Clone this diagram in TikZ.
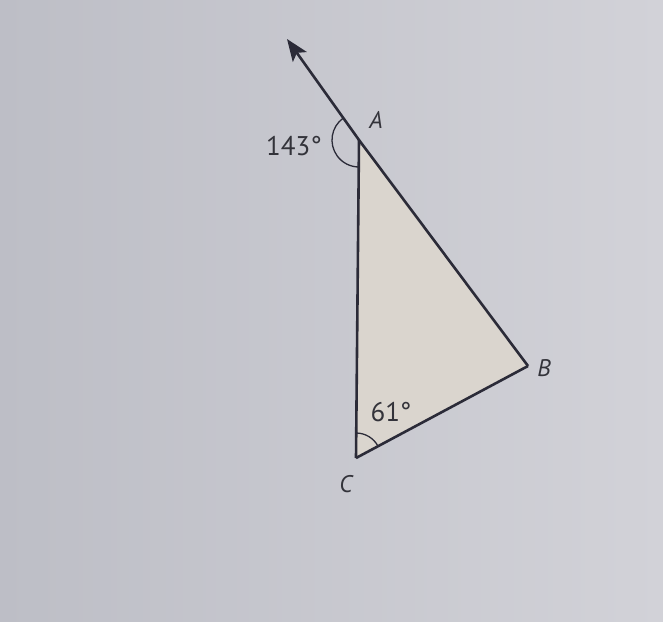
\documentclass[tikz,border=0pt]{standalone}
\usepackage{fontspec}
\setmainfont{PT Sans}
\usetikzlibrary{arrows.meta}
\definecolor{bgL}{HTML}{BDBEC6}
\definecolor{bgR}{HTML}{D2D2D8}
\definecolor{fillT}{HTML}{DAD5CE}
\definecolor{ink}{HTML}{2B2B38}
\definecolor{txt}{HTML}{33333A}
\tikzset{
  edge/.style={draw=ink, line width=2.6pt, line join=round},
  anglearc/.style={draw=ink, line width=1.3pt},
  vlabel/.style={text=txt, font=\fontsize{24}{24}\selectfont\itshape, inner sep=0pt},
  alabel/.style={text=txt, font=\fontsize{27}{27}\selectfont, inner sep=0pt}
}
\begin{document}
\begin{tikzpicture}[x=1pt,y=-1pt]
\useasboundingbox (0,0) rectangle (663,621);
\shade[left color=bgL, right color=bgR] (0,0) rectangle (663,621);
\coordinate (A) at (359,140);
\coordinate (B) at (528,366);
\coordinate (C) at (356,458);
\coordinate (T) at (287,39);
\fill[fillT] (A) -- (B) -- (C) -- cycle;
% angle arcs
\draw[anglearc] ([shift={(234:27)}]A) arc[start angle=234, end angle=90, radius=27];
\draw[anglearc] ([shift={(270:25)}]C) arc[start angle=270, end angle=332, radius=25];
\draw[edge] (C) -- (A);
\draw[edge] (C) -- (B);
\draw[edge, -{Stealth[length=22pt,width=17pt,inset=5pt]}] (B) -- (A) -- (T);
\node[vlabel] (lA) at (376,120) {A};
\node[vlabel] (lB) at (544,368) {B};
\node[vlabel] (lC) at (346,484) {C};
\node[alabel] (l143) at (294,146) {143°};
\node[alabel] (l61) at (391,412) {61°};
\end{tikzpicture}
\end{document}
